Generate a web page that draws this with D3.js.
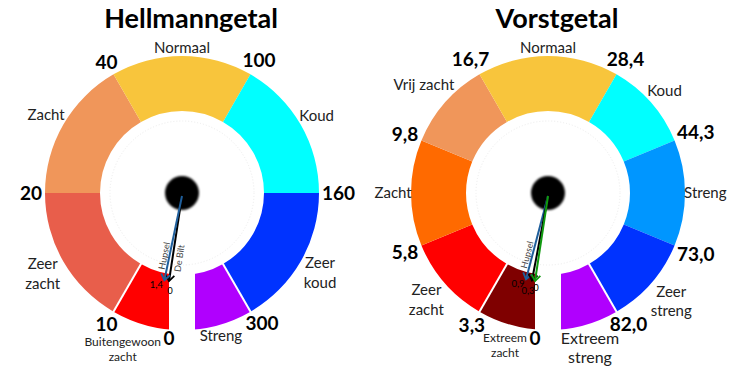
<!DOCTYPE html>
<html>
  <head>
    <script src="https://d3js.org/d3.v7.min.js"></script>
    <style>
      body { margin: 0; background: #fff; }
      text { font-family: Lato, "Open Sans", sans-serif; }
    </style>
  </head>
  <body>
    <div id="chart"></div>
    <script>
      // Hellmanngetal data
      const hellmannCats = ["Buitengewoon\nzacht", "Zeer\nzacht", "Zacht", "Normaal", "Koud", "Zeer\nkoud", "Streng"];
      const hellmannWeights = [1, 2, 2, 2, 2, 2, 1];
      const hellmannBounds = [0, 10, 20, 40, 100, 160, 300];
      const hellmannTicks = ["0", "10", "20", "40", "100", "160", "300"];
      const hellmannStations = ["De Bilt", "Hupsel"];
      const hellmannValues = [0, 1.4];
      const hellmannValueLabels = ["0", "1,4"];

      // Vorstgetal data
      const vorstCats = ["Extreem\nzacht", "Zeer\nzacht", "Zacht", "Vrij zacht", "Normaal", "Koud", "Streng", "Zeer\nstreng", "Extreem\nstreng"];
      const vorstWeights = [4, 5, 6, 5, 8, 5, 6, 5, 4];
      const vorstBounds = [0, 3.3, 5.8, 9.8, 16.7, 28.4, 44.3, 73.0, 82.0];
      const vorstTicks = ["0", "3,3", "5,8", "9,8", "16,7", "28,4", "44,3", "73,0", "82,0"];
      const vorstStations = ["Hupsel", "", ""];
      const vorstValues = [0.9, 0.3, 0];
      const vorstValueLabels = ["0,9", "0,3", "0"];

      // Colours
      const hellmannColors = ["#ff0000", "#e85e4b", "#f0965a", "#f8c53c", "#00ffff", "#0033ff", "#b000fe"];
      const vorstColors = ["#7f0000", "#ff0000", "#ff6a00", "#f0965a", "#f8c53c", "#00ffff", "#0096ff", "#0033ff", "#b000fe"];
      const hellmannNeedleColors = ["#000000", "#1f5f9c"];
      const vorstNeedleColors = ["#1f5f9c", "#000000", "#109a10"];
      const hellmannCatSizes = [12, 15, 15, 15, 15, 15, 15];
      const vorstCatSizes = [12, 15, 15, 15, 15, 15, 15, 15, 16];

      const width = 732, height = 366;
      const rIn = 82, rOut = 137, gapHalf = 13, needleR = 89;

      const svg = d3.select("#chart")
        .append("svg")
        .attr("width", width)
        .attr("height", height);

      const defs = svg.append("defs");
      defs.append("filter")
        .attr("id", "soft")
        .attr("x", "-50%").attr("y", "-50%")
        .attr("width", "200%").attr("height", "200%")
        .append("feGaussianBlur")
        .attr("stdDeviation", 1.3);

      function drawGauge(cx, cy, o) {
        const g = svg.append("g").attr("transform", `translate(${cx},${cy})`);
        const pt = (a, r) => [r * Math.sin(a), -r * Math.cos(a)];
        // radius that keeps a label box just outside the ring
        const fit = (bb, a, base) => base + bb.width / 2 * Math.abs(Math.sin(a)) + bb.height / 2 * Math.abs(Math.cos(a));

        g.append("text")
          .attr("x", 9)
          .attr("y", -165)
          .attr("text-anchor", "middle")
          .style("font-size", "27px")
          .style("font-weight", "bold")
          .text(o.title);

        const arcs = d3.pie().value(d => d).sort(null)
          .startAngle(-Math.PI).endAngle(Math.PI)(o.weights);
        const arc = d3.arc().innerRadius(rIn).outerRadius(rOut);

        g.selectAll("path.seg")
          .data(arcs)
          .join("path")
          .attr("class", "seg")
          .attr("d", arc)
          .attr("fill", (d, i) => o.colors[i]);

        // white separators next to the outer classes
        const n = arcs.length;
        [arcs[1].startAngle, arcs[n - 1].startAngle].forEach(a => {
          const p1 = pt(a, rIn - 2), p2 = pt(a, rOut + 1);
          g.append("line")
            .attr("x1", p1[0]).attr("y1", p1[1])
            .attr("x2", p2[0]).attr("y2", p2[1])
            .attr("stroke", "#fff")
            .attr("stroke-width", 2);
        });

        // gap at the bottom
        g.append("rect")
          .attr("x", -gapHalf).attr("y", 50)
          .attr("width", gapHalf * 2).attr("height", 100)
          .attr("fill", "#fff");

        g.append("circle")
          .attr("r", 72)
          .attr("fill", "none")
          .attr("stroke", "#ececec")
          .attr("stroke-dasharray", "1,2");

        // value -> angle
        const zeroA = -Math.PI + Math.asin(gapHalf / needleR);
        const angle = d3.scaleLinear()
          .domain(o.bounds)
          .range([zeroA].concat(arcs.slice(1).map(d => d.startAngle)));

        // tick labels
        g.selectAll("text.tick")
          .data(o.ticks)
          .join("text")
          .attr("class", "tick")
          .attr("text-anchor", "middle")
          .attr("dy", "0.36em")
          .style("font-size", "19px")
          .style("font-weight", "bold")
          .text(d => d)
          .each(function (d, i) {
            const bb = this.getBBox();
            let p;
            if (i === 0) {
              const r = 146;
              p = pt(-Math.PI + Math.asin(gapHalf / r), r);
            } else {
              const a = arcs[i].startAngle;
              p = pt(a, fit({ width: bb.width, height: 13 }, a, 140));
            }
            if (i === n - 1) { p[0] += 3; p[1] -= 3; }
            d3.select(this).attr("transform", `translate(${p[0]},${p[1]})`);
          });

        // class labels
        g.selectAll("text.cat")
          .data(o.cats)
          .join("text")
          .attr("class", "cat")
          .attr("text-anchor", "middle")
          .style("font-size", (d, i) => o.catSizes[i] + "px")
          .style("fill", "#222")
          .each(function (d, i) {
            const lines = d.split("\n");
            const t = d3.select(this);
            const lh = o.catSizes[i] * (i === n - 1 ? 1.22 : 1.3);
            lines.forEach((s, k) => {
              t.append("tspan")
                .attr("x", 0)
                .attr("dy", k === 0 ? (-(lines.length - 1) / 2 * lh + o.catSizes[i] * 0.36) : lh)
                .text(s);
            });
            const bb = this.getBBox();
            const a = (arcs[i].startAngle + arcs[i].endAngle) / 2;
            const p = pt(a, fit(bb, a, 136));
            // keep the first class clear of the "0" tick
            if (i === 0) { p[0] = Math.min(p[0], -gapHalf - 8 - bb.width / 2); p[1] += 1; }
            if (i === n - 1) p[1] -= 2;
            t.attr("transform", `translate(${p[0]},${p[1]})`);
          });

        // hub
        g.append("circle")
          .attr("r", 17)
          .attr("fill", "#000")
          .attr("filter", "url(#soft)");

        // needles, value labels staggered by rank
        const rank = o.values.map(v => o.values.filter(w => w > v).length);
        o.values.forEach((v, i) => {
          const a = angle(v);
          const col = o.needleColors[i];
          const id = "arrow-" + o.key + i;
          defs.append("marker")
            .attr("id", id)
            .attr("viewBox", "-8 -6 10 12")
            .attr("refX", 0).attr("refY", 0)
            .attr("markerWidth", 10).attr("markerHeight", 12)
            .attr("markerUnits", "userSpaceOnUse")
            .attr("orient", "auto")
            .append("path")
            .attr("d", "M-6,-4.5L0,0L-6,4.5")
            .attr("fill", "none")
            .attr("stroke", col)
            .attr("stroke-width", 1.8);
          const tip = pt(a, needleR);
          g.append("line")
            .attr("x1", 0).attr("y1", 3)
            .attr("x2", tip[0]).attr("y2", tip[1])
            .attr("stroke", col)
            .attr("stroke-width", 2)
            .attr("marker-end", `url(#${id})`);

          const off = [[-8, 4], [-4, 10], [1, 7]][Math.min(rank[i], 2)];
          g.append("text")
            .attr("x", tip[0] + (v > 0 ? off[0] : 1))
            .attr("y", tip[1] + off[1])
            .attr("dy", "0.35em")
            .attr("text-anchor", "middle")
            .style("font-size", "9.5px")
            .style("fill", "#000")
            .text(o.valueLabels[i]);

          // station name along the needle
          if (o.stations[i]) {
            const u = [Math.sin(a), -Math.cos(a)];
            const nrm = [-u[1], u[0]];
            const side = o.stations[i] === "Hupsel" ? 5 : -7;
            const c = pt(a, 65);
            const rot = Math.atan2(-u[1], -u[0]) * 180 / Math.PI;
            g.append("text")
              .attr("transform", `translate(${c[0] + nrm[0] * side},${c[1] + nrm[1] * side}) rotate(${rot})`)
              .attr("text-anchor", "middle")
              .attr("dy", "0.35em")
              .style("font-size", "9px")
              .style("fill", "#444")
              .text(o.stations[i]);
          }
        });
      }

      drawGauge(182, 193, {
        key: "h", title: "Hellmanngetal",
        cats: hellmannCats, weights: hellmannWeights, bounds: hellmannBounds, ticks: hellmannTicks,
        colors: hellmannColors, catSizes: hellmannCatSizes,
        stations: hellmannStations, values: hellmannValues, valueLabels: hellmannValueLabels,
        needleColors: hellmannNeedleColors
      });

      drawGauge(548, 193, {
        key: "v", title: "Vorstgetal",
        cats: vorstCats, weights: vorstWeights, bounds: vorstBounds, ticks: vorstTicks,
        colors: vorstColors, catSizes: vorstCatSizes,
        stations: vorstStations, values: vorstValues, valueLabels: vorstValueLabels,
        needleColors: vorstNeedleColors
      });
    </script>
  </body>
</html>
